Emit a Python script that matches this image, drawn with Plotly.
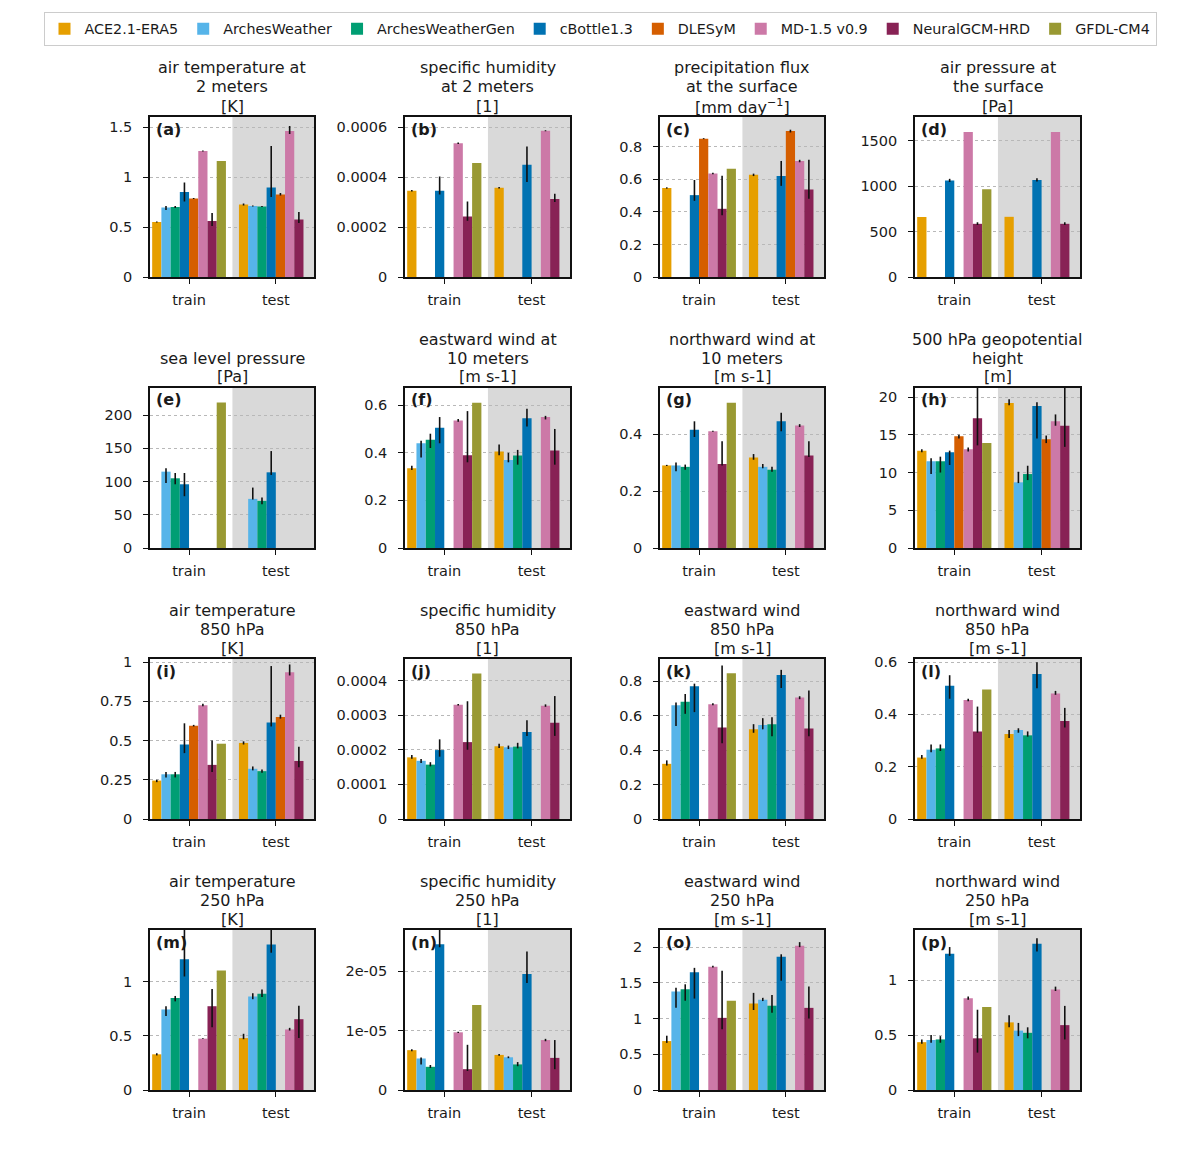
import plotly.graph_objects as go

MODELS = ["ACE2.1-ERA5", "ArchesWeather", "ArchesWeatherGen", "cBottle1.3",
          "DLESyM", "MD-1.5 v0.9", "NeuralGCM-HRD", "GFDL-CM4"]
COLORS = ["#E69F00", "#56B4E9", "#009E73", "#0072B2",
          "#D55E00", "#CC79A7", "#882255", "#999933"]
SPLITS = ["train", "test"]

# each entry: (value, low, high) or (value,) or None ; order follows MODELS
a_train = [(0.55, 0.545, 0.555), (0.695, 0.67, 0.71), (0.70, 0.69, 0.71), (0.85, 0.755, 0.945),
           (0.785, 0.78, 0.79), (1.26, 1.255, 1.265), (0.56, 0.51, 0.64), (1.16,)]
a_test = [(0.725, 0.715, 0.735), (0.71, 0.705, 0.715), (0.705, 0.70, 0.71), (0.895, 0.80, 1.31),
          (0.825, 0.815, 0.84), (1.46, 1.43, 1.51), (0.575, 0.54, 0.65), None]
b_train = [(3.45e-4, 3.42e-4, 3.48e-4), None, None, (3.45e-4, 3.3e-4, 4.02e-4),
           None, (5.35e-4, 5.32e-4, 5.38e-4), (2.42e-4, 2.25e-4, 3.02e-4), (4.56e-4,)]
b_test = [(3.57e-4, 3.54e-4, 3.6e-4), None, None, (4.49e-4, 3.8e-4, 5.22e-4),
          None, (5.85e-4, 5.83e-4, 5.87e-4), (3.12e-4, 3.0e-4, 3.33e-4), None]
c_train = [(0.547, 0.543, 0.551), None, None, (0.503, 0.468, 0.596),
           (0.85, 0.847, 0.853), (0.636, 0.632, 0.64), (0.419, 0.38, 0.622), (0.665,)]
c_test = [(0.628, 0.62, 0.635), None, None, (0.62, 0.56, 0.713),
          (0.897, 0.888, 0.905), (0.712, 0.705, 0.72), (0.538, 0.48, 0.72), None]
d_train = [(660,), None, None, (1062, 1045, 1080),
           None, (1595,), (585, 572, 602), (965,)]
d_test = [(662,), None, None, (1067, 1050, 1085),
          None, (1595,), (585, 572, 602), None]
e_train = [None, (115, 98, 120), (105, 96, 113), (96, 78, 113),
           None, None, None, (219,)]
e_test = [None, (74, 73, 91), (71, 66, 76), (114, 110, 146),
          None, None, None, None]
f_train = [(0.335, 0.328, 0.345), (0.44, 0.38, 0.45), (0.455, 0.42, 0.48), (0.505, 0.44, 0.55),
           None, (0.535, 0.53, 0.542), (0.39, 0.36, 0.575), (0.61,)]
f_test = [(0.405, 0.39, 0.435), (0.37, 0.36, 0.40), (0.388, 0.35, 0.412), (0.545, 0.51, 0.585),
          None, (0.55, 0.54, 0.555), (0.41, 0.35, 0.50), None]
g_train = [(0.29, 0.288, 0.292), (0.29, 0.27, 0.30), (0.285, 0.275, 0.293), (0.415, 0.39, 0.445),
           None, (0.41, 0.408, 0.412), (0.295, 0.29, 0.375), (0.51,)]
g_test = [(0.318, 0.31, 0.33), (0.285, 0.28, 0.295), (0.275, 0.268, 0.285), (0.445, 0.41, 0.475),
          None, (0.43, 0.425, 0.435), (0.325, 0.32, 0.375), None]
h_train = [(12.9, 12.7, 13.1), (11.5, 9.8, 11.9), (11.5, 10.0, 12.1), (12.7, 11.0, 12.9),
           (14.8, 14.5, 15.0), (13.1, 12.8, 13.3), (17.2, 13.6, 24.0), (13.9,)]
h_test = [(19.2, 18.9, 19.7), (8.7, 8.6, 10.1), (9.8, 9.0, 10.9), (18.8, 14.5, 19.3),
          (14.4, 13.9, 14.9), (16.8, 16.2, 17.7), (16.2, 13.4, 25.0), None]
i_train = [(0.245, 0.235, 0.25), (0.285, 0.265, 0.30), (0.285, 0.265, 0.30), (0.475, 0.42, 0.61),
           (0.595, 0.59, 0.60), (0.725, 0.718, 0.735), (0.345, 0.30, 0.50), (0.48,)]
i_test = [(0.485, 0.475, 0.495), (0.32, 0.31, 0.335), (0.305, 0.295, 0.315), (0.615, 0.59, 0.975),
          (0.65, 0.64, 0.665), (0.935, 0.915, 0.985), (0.37, 0.33, 0.46), None]
j_train = [(1.78e-4, 1.74e-4, 1.85e-4), (1.68e-4, 1.62e-4, 1.73e-4), (1.57e-4, 1.52e-4, 1.64e-4),
           (1.99e-4, 1.8e-4, 2.3e-4), None, (3.3e-4, 3.28e-4, 3.32e-4), (2.22e-4, 2.0e-4, 3.4e-4), (4.2e-4,)]
j_test = [(2.1e-4, 2.05e-4, 2.17e-4), (2.07e-4, 2.02e-4, 2.12e-4), (2.09e-4, 2.04e-4, 2.2e-4),
          (2.51e-4, 2.4e-4, 2.85e-4), None, (3.27e-4, 3.24e-4, 3.31e-4), (2.78e-4, 2.4e-4, 3.55e-4), None]
k_train = [(0.32, 0.31, 0.34), (0.66, 0.54, 0.675), (0.68, 0.61, 0.725), (0.77, 0.62, 0.785),
           None, (0.665, 0.66, 0.672), (0.53, 0.44, 0.89), (0.845,)]
k_test = [(0.52, 0.50, 0.55), (0.545, 0.52, 0.585), (0.55, 0.48, 0.59), (0.835, 0.76, 0.865),
          None, (0.705, 0.695, 0.712), (0.525, 0.48, 0.745), None]
l_train = [(0.235, 0.23, 0.245), (0.265, 0.255, 0.285), (0.27, 0.26, 0.285), (0.51, 0.46, 0.55),
           None, (0.455, 0.45, 0.46), (0.335, 0.33, 0.43), (0.495,)]
l_test = [(0.325, 0.31, 0.34), (0.34, 0.33, 0.347), (0.32, 0.315, 0.335), (0.555, 0.50, 0.60),
          None, (0.48, 0.475, 0.49), (0.375, 0.35, 0.425), None]
m_train = [(0.33, 0.32, 0.34), (0.745, 0.685, 0.775), (0.85, 0.82, 0.87), (1.21, 1.05, 1.6),
           None, (0.475, 0.472, 0.478), (0.775, 0.58, 0.935), (1.105,)]
m_test = [(0.48, 0.47, 0.52), (0.865, 0.84, 0.895), (0.89, 0.86, 0.93), (1.345, 1.27, 1.5),
          None, (0.56, 0.55, 0.575), (0.655, 0.48, 0.78), None]
n_train = [(6.7e-6, 6.5e-6, 6.85e-6), (5.3e-6, 4.3e-6, 5.45e-6), (3.9e-6, 3.7e-6, 4.2e-6),
           (2.45e-5, 2.4e-5, 2.8e-5), None, (9.7e-6, 9.6e-6, 9.8e-6), (3.5e-6, 3.2e-6, 7.6e-6), (1.43e-5,)]
n_test = [(5.9e-6, 5.75e-6, 6.05e-6), (5.5e-6, 5.35e-6, 5.65e-6), (4.3e-6, 4.0e-6, 4.7e-6),
          (1.95e-5, 1.8e-5, 2.33e-5), None, (8.4e-6, 8.2e-6, 8.6e-6), (5.4e-6, 3.5e-6, 8.4e-6), None]
o_train = [(0.685, 0.66, 0.76), (1.38, 1.15, 1.43), (1.41, 1.25, 1.48), (1.65, 1.28, 1.71),
           None, (1.725, 1.715, 1.74), (1.01, 0.85, 1.67), (1.25,)]
o_test = [(1.21, 1.12, 1.36), (1.265, 1.245, 1.29), (1.18, 1.08, 1.33), (1.865, 1.53, 1.90),
          None, (2.02, 2.0, 2.07), (1.15, 1.0, 1.45), None]
p_train = [(0.435, 0.42, 0.46), (0.455, 0.43, 0.50), (0.46, 0.43, 0.49), (1.24, 1.22, 1.30),
           None, (0.835, 0.82, 0.85), (0.47, 0.34, 0.73), (0.755,)]
p_test = [(0.615, 0.57, 0.68), (0.54, 0.49, 0.61), (0.52, 0.47, 0.57), (1.33, 1.26, 1.38),
          None, (0.915, 0.90, 0.94), (0.59, 0.46, 0.765), None]

TRAIN = [a_train, b_train, c_train, d_train, e_train, f_train, g_train, h_train,
         i_train, j_train, k_train, l_train, m_train, n_train, o_train, p_train]
TEST = [a_test, b_test, c_test, d_test, e_test, f_test, g_test, h_test,
        i_test, j_test, k_test, l_test, m_test, n_test, o_test, p_test]

TITLES = [
    ["air temperature at", "2 meters", "[K]"],
    ["specific humidity", "at 2 meters", "[1]"],
    ["precipitation flux", "at the surface", "[mm day<sup>−1</sup>]"],
    ["air pressure at", "the surface", "[Pa]"],
    ["sea level pressure", "[Pa]"],
    ["eastward wind at", "10 meters", "[m s-1]"],
    ["northward wind at", "10 meters", "[m s-1]"],
    ["500 hPa geopotential", "height", "[m]"],
    ["air temperature", "850 hPa", "[K]"],
    ["specific humidity", "850 hPa", "[1]"],
    ["eastward wind", "850 hPa", "[m s-1]"],
    ["northward wind", "850 hPa", "[m s-1]"],
    ["air temperature", "250 hPa", "[K]"],
    ["specific humidity", "250 hPa", "[1]"],
    ["eastward wind", "250 hPa", "[m s-1]"],
    ["northward wind", "250 hPa", "[m s-1]"],
]
LABELS = ["(a)", "(b)", "(c)", "(d)", "(e)", "(f)", "(g)", "(h)",
          "(i)", "(j)", "(k)", "(l)", "(m)", "(n)", "(o)", "(p)"]

Y_MAX = [1.6, 0.00064, 0.983, 1760, 241, 0.672, 0.562, 21.2,
         1.02, 0.000462, 0.928, 0.612, 1.48, 2.69e-5, 2.24, 1.455]
Y_TICKS = [
    [0, 0.5, 1, 1.5], [0, 0.0002, 0.0004, 0.0006], [0, 0.2, 0.4, 0.6, 0.8], [0, 500, 1000, 1500],
    [0, 50, 100, 150, 200], [0, 0.2, 0.4, 0.6], [0, 0.2, 0.4], [0, 5, 10, 15, 20],
    [0, 0.25, 0.5, 0.75, 1], [0, 0.0001, 0.0002, 0.0003, 0.0004], [0, 0.2, 0.4, 0.6, 0.8], [0, 0.2, 0.4, 0.6],
    [0, 0.5, 1], [0, 1e-05, 2e-05], [0, 0.5, 1, 1.5, 2], [0, 0.5, 1],
]
Y_TICKTEXT = [
    ["0", "0.5", "1", "1.5"], ["0", "0.0002", "0.0004", "0.0006"], ["0", "0.2", "0.4", "0.6", "0.8"],
    ["0", "500", "1000", "1500"], ["0", "50", "100", "150", "200"], ["0", "0.2", "0.4", "0.6"],
    ["0", "0.2", "0.4"], ["0", "5", "10", "15", "20"], ["0", "0.25", "0.5", "0.75", "1"],
    ["0", "0.0001", "0.0002", "0.0003", "0.0004"], ["0", "0.2", "0.4", "0.6", "0.8"], ["0", "0.2", "0.4", "0.6"],
    ["0", "0.5", "1"], ["0", "1e-05", "2e-05"], ["0", "0.5", "1", "1.5", "2"], ["0", "0.5", "1"],
]

W, H = 1200, 1172
COL_PX = [(150, 314), (405, 570), (660, 824), (915, 1080)]
ROW_PX = [(117, 277), (388, 548), (659, 819), (930, 1090)]
FONT = "DejaVu Sans"
XRANGE = [-0.45, 1.44]


def split(t):
    if t is None:
        return None, None, None
    v = t[0]
    if len(t) == 1:
        return v, None, None
    return v, t[2] - v, v - t[1]


fig = go.Figure()
layout = dict(
    width=W, height=H, margin=dict(l=0, r=0, t=0, b=0, autoexpand=False),
    paper_bgcolor="white", plot_bgcolor="white",
    barmode="group", bargap=0.15, bargroupgap=0,
    font=dict(family=FONT, size=14.5, color="#1a1a1a"),
    showlegend=True,
    legend=dict(orientation="h", x=0.5, xanchor="center", y=1 - 12 / H, yanchor="top",
                bordercolor="#cccccc", borderwidth=1, font=dict(size=14.3, family=FONT),
                traceorder="normal"),
)
annotations = []
shapes = []

for p in range(16):
    r, c = divmod(p, 4)
    n = p + 1
    xa = "x" if n == 1 else f"x{n}"
    ya = "y" if n == 1 else f"y{n}"
    x0p, x1p = COL_PX[c]
    y0p, y1p = ROW_PX[r]
    for m in range(8):
        tv, tp, tm = split(TRAIN[p][m])
        sv, sp, sm = split(TEST[p][m])
        fig.add_trace(go.Bar(
            x=[0, 1], y=[tv, sv], name=MODELS[m], legendgroup=MODELS[m],
            showlegend=(p == 0), marker=dict(color=COLORS[m], line=dict(width=0)),
            xaxis=xa, yaxis=ya,
            error_y=dict(type="data", symmetric=False, array=[tp, sp], arrayminus=[tm, sm],
                         color="#111111", thickness=1.6, width=0),
        ))
    layout["xaxis" if n == 1 else f"xaxis{n}"] = dict(
        domain=[x0p / W, x1p / W], anchor=ya, range=XRANGE,
        tickvals=[0, 1], ticktext=SPLITS, ticks="outside", ticklen=5, tickwidth=1.3,
        tickcolor="#111111", showline=True, mirror=True, linecolor="#111111", linewidth=1.6,
        showgrid=False, zeroline=False, tickfont=dict(size=14.5), ticklabelstandoff=4,
        automargin=False,
    )
    layout["yaxis" if n == 1 else f"yaxis{n}"] = dict(
        domain=[1 - y1p / H, 1 - y0p / H], anchor=xa, range=[0, Y_MAX[p]],
        tickvals=Y_TICKS[p], ticktext=Y_TICKTEXT[p], ticks="outside", ticklen=5, tickwidth=1.3,
        tickcolor="#111111", showline=True, mirror=True, linecolor="#111111", linewidth=1.6,
        showgrid=True, gridcolor="#b8b8b8", griddash="dot", gridwidth=0.8,
        zeroline=False, tickfont=dict(size=14.5), ticklabelstandoff=8, automargin=False,
    )
    shapes.append(dict(type="rect", xref=xa, yref=f"{ya} domain", x0=0.5, x1=XRANGE[1],
                       y0=0, y1=1, fillcolor="#d9d9d9", line=dict(width=0), layer="below"))
    # title lines, bottom-aligned
    lines = TITLES[p]
    cx = (x0p + x1p) / 2 / W
    for k, txt in enumerate(lines):
        off = 11 + 19 * (len(lines) - 1 - k)
        annotations.append(dict(text=txt, x=cx, y=1 - (y0p - off) / H, xref="paper", yref="paper",
                                xanchor="center", yanchor="middle", showarrow=False,
                                font=dict(size=16, family=FONT, color="#1a1a1a")))
    annotations.append(dict(text=f"<b>{LABELS[p]}</b>", x=(x0p + 4) / W, y=1 - (y0p + 12) / H,
                            xref="paper", yref="paper", xanchor="left", yanchor="middle",
                            showarrow=False, font=dict(size=16, family=FONT, color="#1a1a1a")))

layout["annotations"] = annotations
layout["shapes"] = shapes
fig.update_layout(**layout)
fig.write_html("out.html")
